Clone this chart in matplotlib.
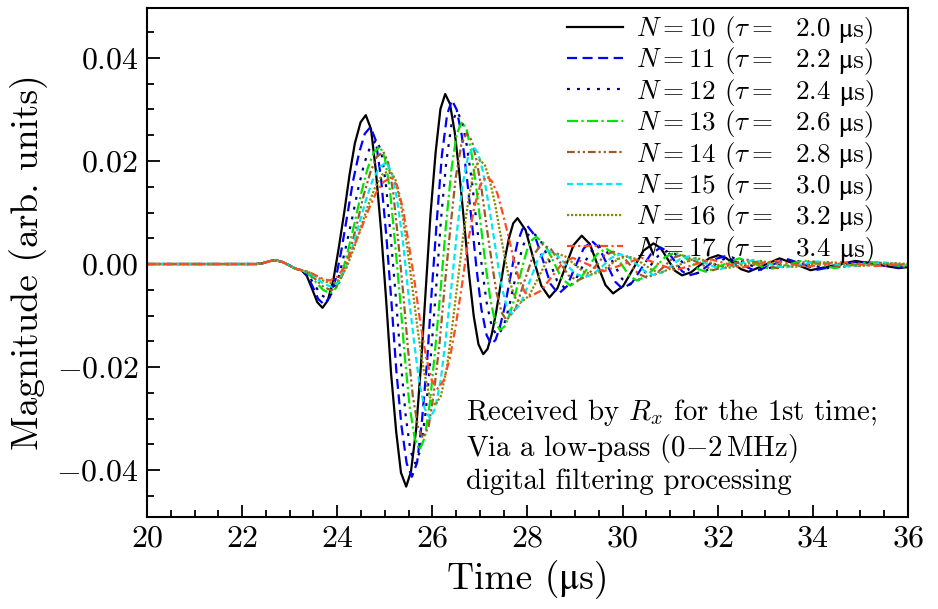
import matplotlib
matplotlib.use("Agg")
from matplotlib import pyplot as plt
from matplotlib.ticker import MultipleLocator

plt.rcParams["font.family"] = ["cmr10", "STIXGeneral"]
plt.rcParams["mathtext.fontset"] = "cm"
plt.rcParams["axes.formatter.use_mathtext"] = True

MU = "\u03bc"  # cmr10 has no mu, plain text falls back to STIX

# values, in units of 1e-4 (time in us)
PRE = [(20.0, 0), (22.0, 0), (22.3, 0), (22.45, 2), (22.6, 6), (22.72, 7), (22.85, 4),
       (23.0, -3), (23.12, -9), (23.25, -12)]

N10 = [(23.36,-23),(23.47,-48),(23.58,-74),(23.69,-85),(23.80,-71),(23.92,-30),(24.03,30),(24.15,102),(24.26,174),(24.37,234),(24.49,275),(24.60,289),(24.71,262),(24.81,183),(24.92,67),(25.03,-72),(25.13,-210),(25.24,-326),(25.34,-405),(25.45,-432),(25.55,-403),(25.66,-320),(25.76,-197),(25.86,-51),(25.96,95),(26.07,218),(26.17,301),(26.27,330),(26.37,311),(26.47,256),(26.57,174),(26.67,78),(26.77,-19),(26.87,-101),(26.97,-156),(27.07,-175),(27.16,-165),(27.25,-136),(27.34,-94),(27.43,-43),(27.52,8),(27.61,50),(27.70,79),(27.79,89),(27.96,66),(28.12,12),(28.29,-42),(28.46,-65),(28.63,-47),(28.80,-5),(28.97,37),(29.14,55),(29.31,39),(29.47,-1),(29.64,-41),(29.80,-57),(30.01,-43),(30.23,-8),(30.44,26),(30.65,40),(30.80,31),(30.95,9),(31.10,-13),(31.25,-22),(31.44,-16),(31.63,-2),(31.82,11),(32.01,17),(32.17,12),(32.33,1),(32.49,-10),(32.65,-15),(32.98,-2),(33.30,11),(33.63,0),(33.95,-12),(34.43,-3),(34.90,6),(35.35,-1),(35.80,-8),(36.00,-6)]
N11 = [(23.37,-22),(23.49,-45),(23.60,-68),(23.72,-78),(23.84,-65),(23.97,-28),(24.09,28),(24.21,94),(24.33,160),(24.46,216),(24.58,253),(24.70,266),(24.81,240),(24.92,167),(25.03,57),(25.14,-74),(25.24,-204),(25.35,-314),(25.46,-387),(25.57,-413),(25.68,-385),(25.78,-306),(25.89,-188),(25.99,-48),(26.10,92),(26.20,211),(26.31,290),(26.41,318),(26.51,300),(26.62,249),(26.72,172),(26.83,81),(26.93,-10),(27.03,-87),(27.14,-138),(27.24,-156),(27.33,-147),(27.42,-122),(27.52,-84),(27.61,-40),(27.70,4),(27.79,42),(27.89,67),(27.98,76),(28.15,56),(28.32,9),(28.48,-38),(28.65,-58),(28.83,-43),(29.00,-6),(29.18,30),(29.35,45),(29.51,31),(29.68,-2),(29.84,-34),(30.00,-48),(30.20,-36),(30.40,-8),(30.60,20),(30.80,32),(30.95,24),(31.10,5),(31.25,-14),(31.40,-22),(31.59,-17),(31.78,-4),(31.96,10),(32.15,15),(32.48,0),(32.80,-14),(33.13,-2),(33.45,10),(33.78,0),(34.10,-11),(34.53,-3),(34.95,5),(35.38,-1),(35.80,-7),(36.00,-5)]
N12 = [(23.38,-20),(23.52,-40),(23.65,-59),(23.78,-67),(23.91,-55),(24.04,-22),(24.17,28),(24.31,87),(24.44,146),(24.57,196),(24.70,229),(24.83,241),(24.93,217),(25.03,149),(25.13,47),(25.24,-73),(25.34,-193),(25.44,-295),(25.54,-363),(25.64,-387),(25.75,-361),(25.86,-287),(25.97,-176),(26.08,-46),(26.18,85),(26.29,196),(26.40,270),(26.51,296),(26.62,280),(26.72,232),(26.83,162),(26.93,79),(27.04,-4),(27.14,-74),(27.25,-122),(27.35,-138),(27.44,-130),(27.54,-109),(27.63,-76),(27.72,-38),(27.81,1),(27.90,34),(28.00,55),(28.09,63),(28.27,47),(28.45,8),(28.62,-32),(28.80,-48),(28.98,-36),(29.15,-6),(29.33,24),(29.50,36),(29.66,25),(29.83,-2),(29.99,-29),(30.15,-40),(30.35,-30),(30.55,-7),(30.75,16),(30.95,26),(31.10,20),(31.25,4),(31.40,-12),(31.55,-18),(31.74,-14),(31.93,-2),(32.11,9),(32.30,13),(32.63,0),(32.95,-12),(33.28,-2),(33.60,8),(33.93,0),(34.25,-9),(34.63,-2),(35.00,4),(35.43,-1),(35.85,-6),(36.00,-4)]
N13 = [(23.40,-19),(23.55,-35),(23.70,-50),(23.85,-57),(23.98,-46),(24.11,-15),(24.24,31),(24.38,86),(24.51,140),(24.64,186),(24.77,217),(24.90,228),(25.00,206),(25.11,142),(25.21,46),(25.32,-67),(25.42,-179),(25.52,-275),(25.63,-339),(25.73,-361),(25.84,-337),(25.95,-268),(26.06,-165),(26.18,-43),(26.29,80),(26.40,183),(26.51,252),(26.62,276),(26.72,261),(26.82,217),(26.92,151),(27.02,74),(27.12,-3),(27.22,-69),(27.32,-113),(27.42,-128),(27.52,-121),(27.61,-102),(27.71,-72),(27.80,-38),(27.90,-3),(27.99,27),(28.09,46),(28.18,53),(28.36,39),(28.54,6),(28.72,-28),(28.90,-42),(29.09,-31),(29.28,-6),(29.46,19),(29.65,30),(29.81,21),(29.98,-1),(30.14,-23),(30.30,-32),(30.50,-24),(30.70,-5),(30.90,14),(31.10,22),(31.26,17),(31.43,4),(31.59,-10),(31.75,-15),(32.10,-2),(32.45,11),(32.78,0),(33.10,-10),(33.45,-2),(33.80,7),(34.13,0),(34.45,-8),(34.83,-2),(35.20,4),(35.55,0),(35.90,-5),(36.00,-4)]
N14 = [(23.41,-18),(23.57,-32),(23.72,-45),(23.88,-51),(24.02,-41),(24.15,-12),(24.29,32),(24.43,84),(24.56,135),(24.70,179),(24.83,208),(24.97,218),(25.07,197),(25.18,137),(25.28,47),(25.39,-60),(25.49,-167),(25.59,-257),(25.70,-317),(25.80,-338),(25.92,-316),(26.03,-251),(26.15,-155),(26.26,-42),(26.38,71),(26.49,167),(26.61,232),(26.72,254),(26.83,240),(26.93,201),(27.04,142),(27.14,73),(27.25,3),(27.35,-56),(27.46,-95),(27.56,-109),(27.75,-87),(27.93,-35),(28.12,17),(28.30,39),(28.49,29),(28.68,4),(28.86,-22),(29.05,-32),(29.24,-24),(29.43,-4),(29.61,16),(29.80,24),(29.98,17),(30.15,-1),(30.33,-19),(30.50,-26),(30.69,-20),(30.88,-4),(31.06,12),(31.25,18),(31.58,3),(31.90,-12),(32.25,-2),(32.60,9),(32.93,0),(33.25,-8),(33.60,-1),(33.95,6),(34.28,0),(34.60,-6),(34.98,-2),(35.35,3),(36.00,-3)]
N15 = [(23.41,-17),(23.57,-28),(23.72,-39),(23.88,-44),(24.02,-35),(24.17,-9),(24.31,30),(24.46,77),(24.60,123),(24.74,162),(24.89,188),(25.03,197),(25.15,178),(25.26,124),(25.38,44),(25.49,-52),(25.61,-147),(25.72,-227),(25.84,-281),(25.95,-300),(26.06,-280),(26.18,-223),(26.29,-137),(26.41,-36),(26.52,65),(26.63,151),(26.75,208),(26.86,228),(26.96,216),(27.06,181),(27.16,128),(27.27,66),(27.37,4),(27.47,-49),(27.57,-84),(27.67,-96),(27.85,-78),(28.04,-35),(28.22,9),(28.40,27),(28.60,19),(28.80,0),(29.00,-18),(29.20,-26),(29.39,-19),(29.58,-4),(29.76,12),(29.95,19),(30.13,13),(30.30,-1),(30.48,-15),(30.65,-21),(30.84,-16),(31.03,-3),(31.21,10),(31.40,15),(31.73,2),(32.05,-10),(32.40,-1),(32.75,8),(33.08,0),(33.40,-7),(33.75,-1),(34.10,5),(34.45,0),(34.80,-5),(35.15,-1),(35.50,3),(36.00,-2)]
N16 = [(23.41,-16),(23.58,-25),(23.74,-34),(23.90,-38),(24.05,-30),(24.20,-6),(24.35,30),(24.50,72),(24.65,114),(24.80,150),(24.95,174),(25.10,182),(25.22,165),(25.34,115),(25.46,41),(25.58,-46),(25.70,-133),(25.82,-207),(25.94,-257),(26.06,-274),(26.18,-256),(26.30,-204),(26.41,-127),(26.53,-36),(26.65,55),(26.77,132),(26.88,184),(27.00,202),(27.11,191),(27.21,161),(27.32,116),(27.42,63),(27.53,10),(27.63,-35),(27.74,-65),(27.84,-76),(28.03,-62),(28.22,-28),(28.41,7),(28.60,21),(28.79,15),(28.98,0),(29.16,-14),(29.35,-20),(29.54,-15),(29.73,-2),(29.91,10),(30.10,15),(30.28,10),(30.45,-1),(30.63,-12),(30.80,-17),(31.18,-2),(31.55,12),(31.88,2),(32.20,-8),(32.55,-1),(32.90,6),(33.25,0),(33.60,-6),(33.95,-1),(34.30,4),(34.65,0),(35.00,-4),(35.35,-1),(35.70,2),(36.00,0)]
N17 = [(23.40,-15),(23.55,-22),(23.70,-29),(23.85,-32),(24.01,-24),(24.17,-3),(24.33,30),(24.50,68),(24.66,106),(24.82,139),(24.98,160),(25.14,168),(25.26,152),(25.38,108),(25.50,41),(25.63,-37),(25.75,-116),(25.87,-182),(25.99,-226),(26.11,-242),(26.24,-226),(26.37,-182),(26.50,-115),(26.63,-36),(26.75,43),(26.88,110),(27.01,154),(27.14,170),(27.25,161),(27.37,136),(27.48,98),(27.60,54),(27.71,9),(27.82,-29),(27.94,-54),(28.05,-63),(28.28,-52),(28.50,-26),(28.73,1),(28.95,12),(29.28,-1),(29.60,-14),(30.00,-1),(30.40,12),(30.75,0),(31.10,-12),(31.48,-2),(31.85,9),(32.18,1),(32.50,-7),(32.85,0),(33.20,6),(33.55,0),(33.90,-5),(34.25,0),(34.60,4),(34.95,0),(35.30,-4),(36.00,0)]

SERIES = [N10, N11, N12, N13, N14, N15, N16, N17]
N_VALUES = [10, 11, 12, 13, 14, 15, 16, 17]
TAUS = ["2.0", "2.2", "2.4", "2.6", "2.8", "3.0", "3.2", "3.4"]

COLORS = ["black", "#0000ff", "#000080", "#00e600", "#9c5a26", "#00e8f0", "#8b8b00", "#ff4a22"]
DASHES = ["-", (0, (4.5, 2.5)), (0, (1.3, 3.2)), (0, (5, 1.5, 1, 1.5)),
          (0, (3.5, 1.3, 1, 1.3, 1, 1.3)), (0, (2.8, 1.6)), (0, (1, 0.8)), (0, (3.5, 1.5, 1, 1.5))]

LEG_SIZE = 19.5


def plot():
    fig = plt.figure(figsize=(9.38, 6.09), dpi=100)
    ax = fig.add_axes([0.1567, 0.1511, 0.8113, 0.8358])

    for pts, n, tau, c, ls in zip(SERIES, N_VALUES, TAUS, COLORS, DASHES):
        data = PRE + pts
        t = [p[0] for p in data]
        v = [p[1] * 1e-4 for p in data]
        ax.plot(t, v, color=c, linestyle=ls, lw=1.6,
                label=rf"$N={n}$ $(\tau=$  {tau}")

    ax.set_xlim(20, 36)
    ax.set_ylim(-0.0491, 0.0497)
    ax.xaxis.set_major_locator(MultipleLocator(2))
    ax.xaxis.set_minor_locator(MultipleLocator(0.5))
    ax.yaxis.set_major_locator(MultipleLocator(0.02))
    ax.yaxis.set_minor_locator(MultipleLocator(0.005))
    ax.yaxis.set_major_formatter(plt.FuncFormatter(lambda y, _: f"${y:.2f}$"))
    ax.tick_params(which="both", direction="in", width=1.3, labelsize=23, pad=6)
    ax.tick_params(which="major", length=9)
    ax.tick_params(which="minor", length=5)
    for s in ax.spines.values():
        s.set_linewidth(1.5)

    ax.set_xlabel(f"Time ({MU}s)", fontsize=27, labelpad=5)
    ax.set_ylabel("Magnitude (arb. units)", fontsize=27, labelpad=6)

    leg = ax.legend(loc="upper left", frameon=False, fontsize=LEG_SIZE, handlelength=2.1,
                    labelspacing=0.015, handletextpad=0.45, borderaxespad=0.2,
                    bbox_to_anchor=(0.530, 1.02))

    ax.text(0.419, 0.236, "Received by $R_x$ for the 1st time;\nVia a low-pass (0$-$2$\\,$MHz)\ndigital filtering processing",
            transform=ax.transAxes, fontsize=20.8, va="top", ha="left", linespacing=1.17)

    # the unit is plain text so that mu stays upright (mathtext cm has only italic mu)
    fig.canvas.draw()
    inv = fig.transFigure.inverted()
    for txt in leg.get_texts():
        bb = txt.get_window_extent()
        _, base = txt.get_transform().transform(txt.get_position())
        fx, fy = inv.transform((bb.x1, base))
        fig.text(fx, fy, f" {MU}s)", fontsize=LEG_SIZE, va="baseline", ha="left")

    fig.savefig("out.png", dpi=100)
    print("Done ")


if __name__ == "__main__":
    plot()
